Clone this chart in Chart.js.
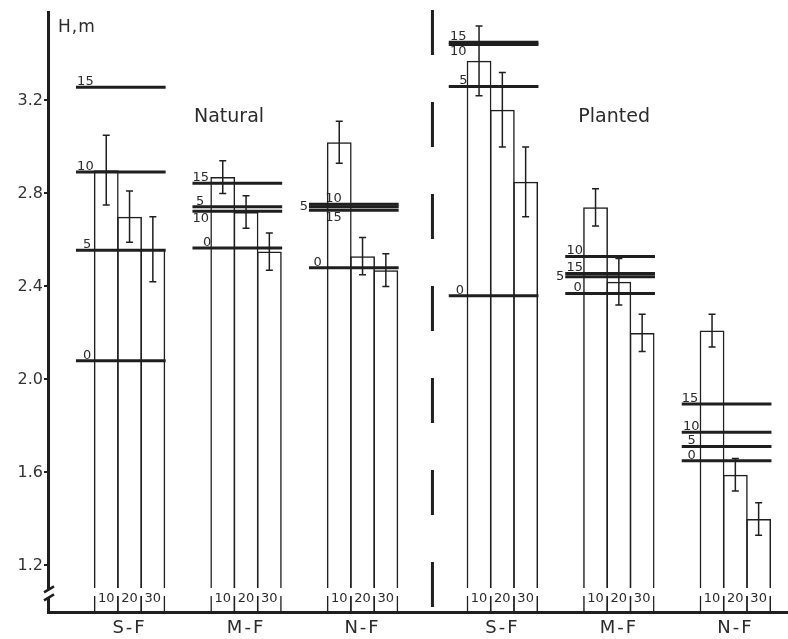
<!DOCTYPE html>
<html>
<head>
<meta charset="utf-8">
<script src="https://cdn.jsdelivr.net/npm/chart.js@4.4.1/dist/chart.umd.min.js"></script>
<style>
  html, body { margin: 0; padding: 0; background: #fff; }
  #wrap { width: 788px; height: 639px; }
</style>
</head>
<body>
<div id="wrap"><canvas id="myChart" width="788" height="639"></canvas></div>
<script>
const groups = ['S-F', 'M-F', 'N-F', 'S-F', 'M-F', 'N-F'];
const stands = ['Natural', 'Planted'];
const ages = ['10', '20', '30'];
const densities = ['0', '5', '10', '15'];

// mean height (m) per site group for the 10, 20 and 30 classes
const heightAge10 = [2.90, 2.87, 3.02, 3.37, 2.74, 2.21];
const heightAge20 = [2.70, 2.72, 2.53, 3.16, 2.42, 1.59];
const heightAge30 = [2.56, 2.55, 2.47, 2.85, 2.20, 1.40];

const errAge10 = [0.15, 0.07, 0.09, 0.15, 0.08, 0.07];
const errAge20 = [0.11, 0.07, 0.08, 0.16, 0.10, 0.07];
const errAge30 = [0.14, 0.08, 0.07, 0.15, 0.08, 0.07];

// horizontal reference levels for density 0, 5, 10, 15
const level0 = [2.08, 2.565, 2.48, 2.36, 2.37, 1.65];
const level5 = [2.555, 2.743, 2.743, 3.26, 2.442, 1.712];
const level10 = [2.892, 2.723, 2.753, 3.44, 2.529, 1.773];
const level15 = [3.256, 2.844, 2.728, 3.45, 2.456, 1.894];

const yTicks = [1.2, 1.6, 2.0, 2.4, 2.8, 3.2];

const heights = [heightAge10, heightAge20, heightAge30];
const errors = [errAge10, errAge20, errAge30];
const levels = [level0, level5, level10, level15];

// layout only
const groupStart = g => 2 + 5 * g + (g >= 3 ? 1 : 0);
const dividerX = 16.5;
const standLabelPos = [[7.77, 3.13], [24.3, 3.13]];
// where each level label sits: a = above, b = below, l = left of line; second value = x shift
const labelPlace = [
  [['a', 0.3], ['a', 0.3], ['a', 0.05], ['a', 0.05]],
  [['a', 0.45], ['a', 0.15], ['b', 0.0], ['a', 0.0]],
  [['a', 0.2], ['l', 0], ['a', 0.7], ['b', 0.7]],
  [['a', 0.3], ['a', 0.45], ['b', 0.05], ['a', 0.05]],
  [['a', 0.35], ['l', 0], ['a', 0.05], ['a', 0.05]],
  [['a', 0.25], ['a', 0.25], ['a', 0.05], ['a', 0.0]]
];

const INK = '#1f1f1f';
const TEXT = '#2b2b2b';
const FONT = '"DejaVu Sans", sans-serif';

const datasets = [];
ages.forEach((age, a) => {
  datasets.push({
    type: 'bar',
    label: age,
    order: 2,
    grouped: false,
    data: groups.map((gName, g) => ({ x: groupStart(g) + a + 0.5, y: heights[a][g] })),
    backgroundColor: 'rgba(255,255,255,0)',
    borderColor: INK,
    borderWidth: 1.5,
    categoryPercentage: 1,
    barPercentage: 1.065
  });
});
groups.forEach((gName, g) => {
  levels.forEach((lv, l) => {
    datasets.push({
      type: 'line',
      label: gName + ' ' + densities[l],
      order: 1,
      data: [{ x: groupStart(g) - 0.8, y: lv[g] }, { x: groupStart(g) + 3.05, y: lv[g] }],
      borderColor: INK,
      borderWidth: 3,
      pointRadius: 0,
      fill: false
    });
  });
});

const decorations = {
  id: 'decorations',
  afterDatasetsDraw(chart) {
    const ctx = chart.ctx;
    const xs = chart.scales.x, ys = chart.scales.y;
    const area = chart.chartArea;
    ctx.save();

    // error bars
    ctx.strokeStyle = INK;
    ctx.lineWidth = 1.5;
    groups.forEach((gName, g) => {
      ages.forEach((age, a) => {
        const cx = xs.getPixelForValue(groupStart(g) + a + 0.5);
        const t = ys.getPixelForValue(heights[a][g] + errors[a][g]);
        const b = ys.getPixelForValue(heights[a][g] - errors[a][g]);
        ctx.beginPath();
        ctx.moveTo(cx, t); ctx.lineTo(cx, b);
        ctx.moveTo(cx - 3.5, t); ctx.lineTo(cx + 3.5, t);
        ctx.moveTo(cx - 3.5, b); ctx.lineTo(cx + 3.5, b);
        ctx.stroke();
      });
    });

    // level labels
    ctx.fillStyle = TEXT;
    ctx.font = '13px ' + FONT;
    groups.forEach((gName, g) => {
      levels.forEach((lv, l) => {
        const [where, dx] = labelPlace[g][l];
        const x0 = xs.getPixelForValue(groupStart(g) - 0.8 + dx);
        const y = ys.getPixelForValue(lv[g]);
        if (where === 'l') {
          ctx.textAlign = 'right'; ctx.textBaseline = 'middle';
          ctx.fillText(densities[l], x0 - 1, y);
        } else if (where === 'b') {
          ctx.textAlign = 'left'; ctx.textBaseline = 'top';
          ctx.fillText(densities[l], x0, y + 1);
        } else {
          ctx.textAlign = 'left'; ctx.textBaseline = 'alphabetic';
          ctx.fillText(densities[l], x0, y - 2);
        }
      });
    });

    // stand titles
    ctx.font = '19px ' + FONT;
    ctx.textAlign = 'center'; ctx.textBaseline = 'middle';
    stands.forEach((s, i) => {
      ctx.fillText(s, xs.getPixelForValue(standLabelPos[i][0]), ys.getPixelForValue(standLabelPos[i][1]));
    });

    // dashed divider between natural and planted
    const dx = xs.getPixelForValue(dividerX);
    ctx.strokeStyle = INK;
    ctx.lineWidth = 3;
    ctx.setLineDash([45, 47]);
    ctx.beginPath();
    ctx.moveTo(dx, area.top - 2);
    ctx.lineTo(dx, area.bottom);
    ctx.stroke();
    ctx.setLineDash([]);

    // age labels under the bars, with a gap in the bar edges
    groups.forEach((gName, g) => {
      const l = xs.getPixelForValue(groupStart(g));
      const r = xs.getPixelForValue(groupStart(g) + 3);
      ctx.fillStyle = '#fff';
      ctx.fillRect(l - 2, area.bottom - 24, r - l + 4, 8);
      ctx.fillStyle = TEXT;
      ctx.font = '13px ' + FONT;
      ctx.textAlign = 'center'; ctx.textBaseline = 'middle';
      ages.forEach((age, a) => {
        ctx.fillText(age, xs.getPixelForValue(groupStart(g) + a + 0.5), area.bottom - 13);
      });
      ctx.font = '18px ' + FONT;
      if ('letterSpacing' in ctx) ctx.letterSpacing = '2px';
      ctx.fillText(gName, xs.getPixelForValue(groupStart(g) + 1.5), area.bottom + 16);
      if ('letterSpacing' in ctx) ctx.letterSpacing = '0px';
    });

    // axis title
    ctx.font = '17px ' + FONT;
    ctx.textAlign = 'left'; ctx.textBaseline = 'middle';
    if ('letterSpacing' in ctx) ctx.letterSpacing = '1px';
    ctx.fillText('H,m', area.left + 10, area.top + 16);
    if ('letterSpacing' in ctx) ctx.letterSpacing = '0px';

    // axis break marks
    const ax = area.left;
    const by = ys.getPixelForValue(1.08);
    ctx.fillStyle = '#fff';
    ctx.fillRect(ax - 3, by - 4, 6, 8);
    ctx.strokeStyle = INK;
    ctx.lineWidth = 2.5;
    ctx.beginPath();
    ctx.moveTo(ax - 4, by - 1); ctx.lineTo(ax + 6, by - 7);
    ctx.moveTo(ax - 4, by + 7); ctx.lineTo(ax + 6, by + 1);
    ctx.stroke();

    ctx.restore();
  }
};

new Chart(document.getElementById('myChart'), {
  data: { datasets: datasets },
  options: {
    responsive: false,
    animation: false,
    devicePixelRatio: 1,
    layout: { padding: { top: 12, right: 0, bottom: 0, left: 0 } },
    plugins: { legend: { display: false }, tooltip: { enabled: false } },
    scales: {
      x: {
        type: 'linear',
        offset: false,
        min: 0,
        max: 31.76,
        grid: { display: false },
        ticks: { display: false },
        border: { display: true, width: 3, color: INK },
        afterFit: scale => { scale.height = 27; }
      },
      y: {
        type: 'linear',
        min: 1.0,
        max: 3.58,
        afterBuildTicks: scale => { scale.ticks = yTicks.map(v => ({ value: v })); },
        ticks: {
          callback: v => v.toFixed(1),
          color: '#333',
          font: { family: FONT, size: 16 },
          padding: 1
        },
        grid: { drawOnChartArea: false, drawTicks: true, tickLength: 4, color: INK, lineWidth: 2 },
        border: { display: true, width: 3, color: INK },
        afterFit: scale => { scale.width = 48; }
      }
    }
  },
  plugins: [decorations]
});
</script>
</body>
</html>
